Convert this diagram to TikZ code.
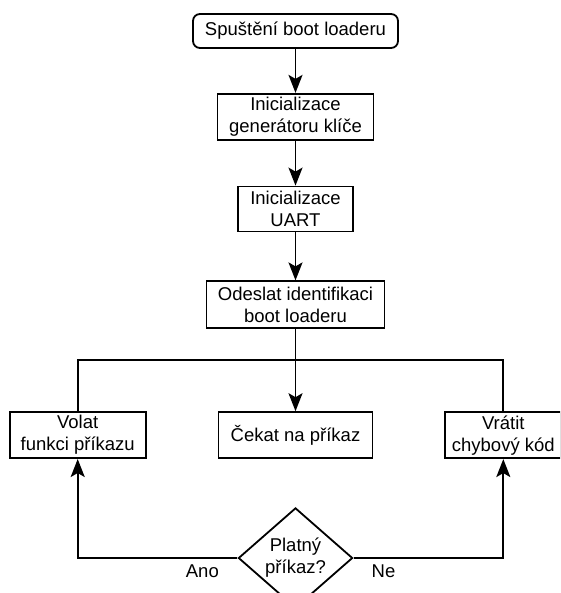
\documentclass[tikz,border=0pt]{standalone}
\usepackage{fontspec}
\setmainfont{Liberation Sans}
\usepackage{tikz}
\usetikzlibrary{positioning,shapes.geometric,arrows.meta}

\begin{document}
\begin{tikzpicture}[x=1pt,y=-1pt,font=\fontsize{18.5}{22}\selectfont,
    pbox/.style={draw,line width=1.8pt,align=center,minimum height=46pt,inner xsep=4pt},
    pstart/.style={pbox,rounded corners=7pt,minimum height=34pt},
    pdec/.style={draw,line width=1.8pt,diamond,aspect=1.14,inner sep=2pt,align=center},
    parr/.style={draw,line width=1.8pt,-{Stealth[length=18pt,width=14pt,inset=4pt]}}]
 \path[use as bounding box,clip] (0,0) rectangle (560,593);
 \node[pstart,minimum width=205pt] (start) at (295.5,31) {Spuštění boot loaderu};
 \node[pbox,below=44pt of start,minimum width=156pt,minimum height=45pt] (gen)
  {Inicializace\\ generátoru klíče};
 \node[pbox,below=45pt of gen,minimum width=115pt,minimum height=45pt] (uart)
  {Inicializace\\ UART};
 \node[pbox,below=48pt of uart,minimum width=178pt,minimum height=47pt] (odes)
  {Odeslat identifikaci\\ boot loaderu};
 \node[pbox,below=82pt of odes,minimum width=154pt] (cekat) {Čekat na příkaz};
 \node[pbox,left=71pt of cekat,minimum width=136pt] (volat) {Volat\\ funkci příkazu};
 \node[pbox,right=71pt of cekat,minimum width=116pt] (vratit) {Vrátit\\ chybový kód};
 \node[pdec,below=48pt of cekat] (dec) {Platný\\ příkaz?};
 \coordinate[below=31pt of odes.south] (split);
 % hlavni vetev
 \path foreach \A/\B in {start/gen,gen/uart,uart/odes,odes/cekat} {(\A) edge[parr] (\B)};
 \draw[line width=1.8pt] (volat.north) |- (split) -| (vratit.north);
 % rozhodnuti
 \draw[parr] (dec.west) -| node[pos=0.11,below=3pt] {Ano} (volat.south);
 \draw[parr] (dec.east) -| node[pos=0.1,below=3pt] {Ne} (vratit.south);
\end{tikzpicture}
\end{document}
